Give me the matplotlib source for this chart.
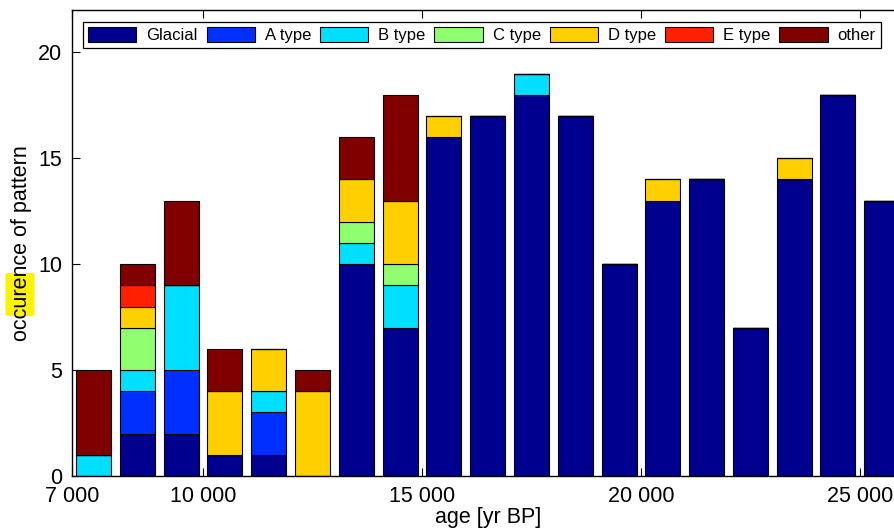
import numpy as np
import matplotlib
matplotlib.use("Agg")
import matplotlib.pyplot as plt
from matplotlib.ticker import FuncFormatter
from matplotlib.patches import FancyBboxPatch

# bin centres (yr BP) and counts of each pattern per 1000-year bin
ages = [7500, 8500, 9500, 10500, 11500, 12500, 13500, 14500, 15500, 16500,
        17500, 18500, 19500, 20500, 21500, 22500, 23500, 24500, 25500]
glacial = [0, 2, 2, 1, 1, 0, 10, 7, 16, 17, 18, 17, 10, 13, 14, 7, 14, 18, 13]
a_type = [0, 2, 3, 0, 2, 0, 0, 0, 0, 0, 0, 0, 0, 0, 0, 0, 0, 0, 0]
b_type = [1, 1, 4, 0, 1, 0, 1, 2, 0, 0, 1, 0, 0, 0, 0, 0, 0, 0, 0]
c_type = [0, 2, 0, 0, 0, 0, 1, 1, 0, 0, 0, 0, 0, 0, 0, 0, 0, 0, 0]
d_type = [0, 1, 0, 3, 2, 4, 2, 3, 1, 0, 0, 0, 0, 1, 0, 0, 1, 0, 0]
e_type = [0, 1, 0, 0, 0, 0, 0, 0, 0, 0, 0, 0, 0, 0, 0, 0, 0, 0, 0]
other = [4, 1, 4, 2, 0, 1, 2, 5, 0, 0, 0, 0, 0, 0, 0, 0, 0, 0, 0]

labels = ["Glacial", "A type", "B type", "C type", "D type", "E type", "other"]
series = [glacial, a_type, b_type, c_type, d_type, e_type, other]
colors = ["#00008F", "#0030FF", "#00DFFF", "#8FFF70", "#FFCF00", "#FF2000", "#800000"]

plt.rcParams["font.family"] = ["Liberation Sans", "DejaVu Sans"]

fig = plt.figure(figsize=(8.94, 5.3), dpi=100)
ax = fig.add_axes([0.0802, 0.1019, 0.9306, 0.8792])

bottom = np.zeros(len(ages))
for vals, lab, col in zip(series, labels, colors):
    ax.bar(ages, vals, width=800, bottom=bottom, color=col, edgecolor="black",
           linewidth=0.8, label=lab)
    bottom += np.array(vals)

ax.set_xlim(7000, 26000)
ax.set_ylim(0, 22)
ax.set_xticks([7000, 10000, 15000, 20000, 25000])
ax.set_yticks([0, 5, 10, 15, 20])
ax.xaxis.set_major_formatter(FuncFormatter(lambda v, p: f"{int(v):,}".replace(",", " ")))
ax.tick_params(direction="in", top=True, right=True, length=6, width=0.8,
               labelsize=15.5, pad=7)
for s in ax.spines.values():
    s.set_linewidth(1.0)

ax.set_xlabel("age [yr BP]", fontsize=15.5, labelpad=0)
ax.set_ylabel("occurence of pattern", fontsize=15.5, labelpad=4)

leg = ax.legend(loc="upper left", bbox_to_anchor=(0.0136, 0.914, 0.959, 0.06),
                mode="expand", ncol=7, fontsize=12, handlelength=2.9,
                handleheight=1.0, handletextpad=0.6, borderpad=0.3,
                borderaxespad=0, columnspacing=0.5, fancybox=False, framealpha=1)
leg.get_frame().set_edgecolor("black")
leg.get_frame().set_linewidth(0.9)

# highlighter mark over part of the y label
fig.add_artist(FancyBboxPatch((9 / 894, 1 - 314 / 530), 22 / 894, 39 / 530,
                              boxstyle="round,pad=0.004", transform=fig.transFigure,
                              facecolor="#FFF200", edgecolor="none", zorder=-1))

fig.savefig("out.png", dpi=100)
